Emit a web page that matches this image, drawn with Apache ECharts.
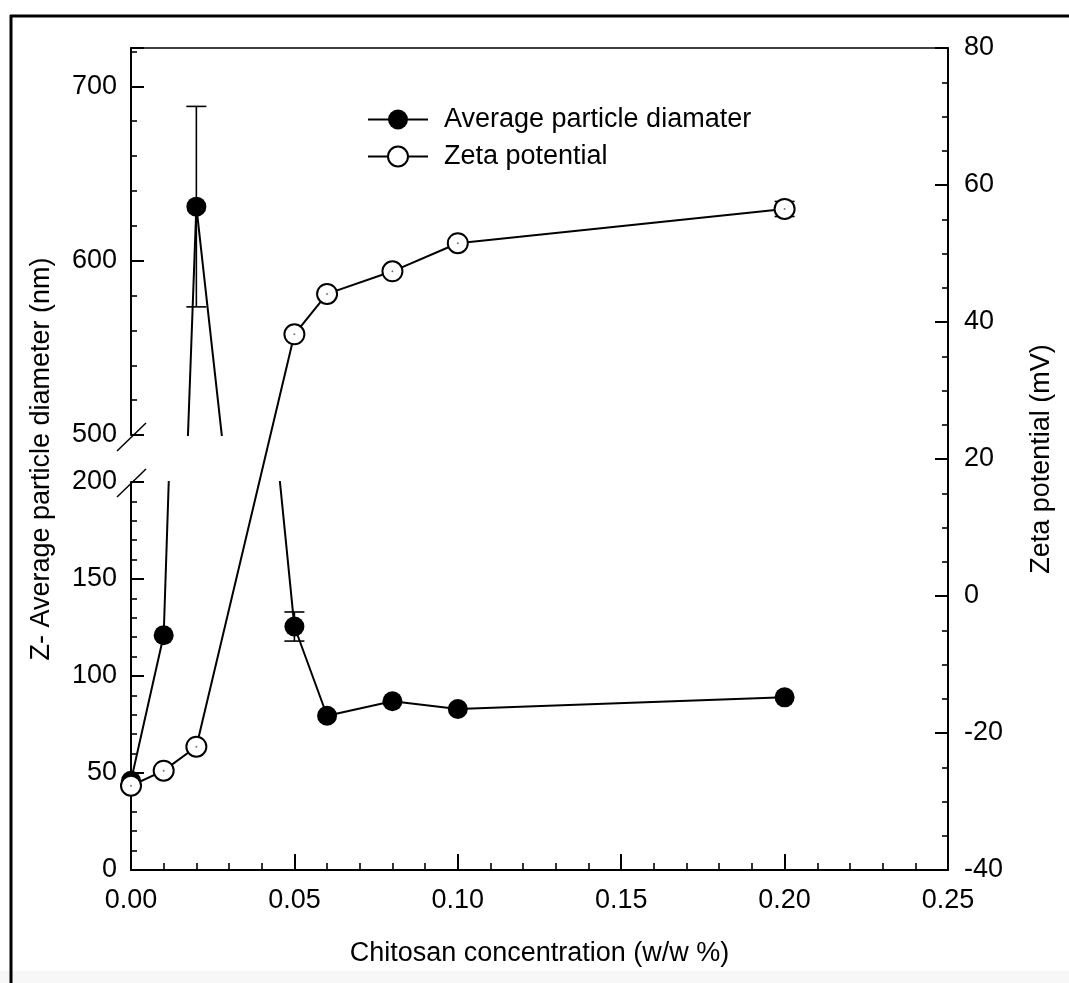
<!DOCTYPE html>
<html>
<head>
<meta charset="utf-8">
<script src="https://cdn.jsdelivr.net/npm/echarts@6/dist/echarts.min.js"></script>
<style>
  html, body { margin: 0; padding: 0; background: #fff; }
  #chart { width: 1069px; height: 983px; }
</style>
</head>
<body>
<div id="chart"></div>
<script>
// Chitosan concentration (w/w %)
const concentration = [0, 0.01, 0.02, 0.05, 0.06, 0.08, 0.10, 0.20];
// Z-average particle diameter (nm) and its standard deviation
const diameter = [46, 121, 631, 125.5, 79.5, 87, 83, 89];
const diameterErr = [4, 0, 57.5, 7.5, 0, 0, 0, 0];
// Zeta potential (mV) and its standard deviation
const zeta = [-27.7, -25.5, -22.0, 38.2, 44.1, 47.4, 51.5, 56.5];
const zetaErr = [0, 0, 0, 0, 0, 0, 0, 1.1];

const FONT = "'Liberation Sans', Arial, sans-serif";
const FS = 27;
const BLACK = '#000';
const MARK = 20;

const diameterPts = concentration.map((x, i) => [x, diameter[i]]);
const diameterBars = concentration
  .map((x, i) => [x, diameter[i] - diameterErr[i], diameter[i] + diameterErr[i], diameterErr[i]])
  .filter(d => d[3] > 0);
const zetaPts = concentration.map((x, i) => [x, zeta[i]]);
const zetaBars = concentration
  .map((x, i) => [x, zeta[i] - zetaErr[i], zeta[i] + zetaErr[i], zetaErr[i]])
  .filter(d => d[3] > 0);

function errorBar(params, api) {
  const x = api.value(0);
  const lo = api.coord([x, api.value(1)]);
  const hi = api.coord([x, api.value(2)]);
  const w = 10;
  const style = { stroke: BLACK, lineWidth: 1.6, fill: null };
  return {
    type: 'group',
    children: [
      { type: 'line', shape: { x1: hi[0], y1: hi[1], x2: lo[0], y2: lo[1] }, style },
      { type: 'line', shape: { x1: hi[0] - w, y1: hi[1], x2: hi[0] + w, y2: hi[1] }, style },
      { type: 'line', shape: { x1: lo[0] - w, y1: lo[1], x2: lo[0] + w, y2: lo[1] }, style }
    ]
  };
}

const L = 131, R = 1069 - 948, BOT = 983 - 870;

const hiddenX = (grid) => ({
  gridIndex: grid, type: 'value', min: 0, max: 0.25, show: false
});

const leftAxis = (grid, min, max, interval) => ({
  gridIndex: grid, type: 'value', position: 'left', min, max, interval,
  axisLine: { show: true, onZero: false, lineStyle: { color: BLACK, width: 2 } },
  axisTick: { show: true, inside: true, length: 13, lineStyle: { color: BLACK, width: 2 } },
  minorTick: { show: true, splitNumber: 5, length: 6, lineStyle: { color: BLACK, width: 1.6 } },
  axisLabel: { color: BLACK, fontSize: FS, fontFamily: FONT, margin: 14, showMaxLabel: max % interval === 0 },
  splitLine: { show: false }
});

const option = {
  animation: false,
  backgroundColor: '#fff',
  grid: [
    { left: L, right: R, top: 48, bottom: BOT },
    { left: L, right: R, top: 482, bottom: BOT },
    { left: L, right: R, top: 48, bottom: 983 - 435 }
  ],
  legend: {
    data: ['Average particle diamater', 'Zeta potential'],
    orient: 'vertical',
    left: 367, top: 106, padding: 0,
    itemWidth: 60, itemHeight: 25, itemGap: 10,
    textStyle: { fontSize: FS, color: BLACK, fontFamily: FONT, padding: [0, 0, 0, 11] },
    selectedMode: false
  },
  xAxis: [
    {
      gridIndex: 0, type: 'value', position: 'bottom', min: 0, max: 0.25, interval: 0.05,
      name: 'Chitosan concentration (w/w %)', nameLocation: 'middle', nameGap: 70,
      nameTextStyle: { fontSize: FS, color: BLACK, fontFamily: FONT },
      axisLine: { show: true, onZero: false, lineStyle: { color: BLACK, width: 2 } },
      axisTick: { show: true, inside: true, length: 16, lineStyle: { color: BLACK, width: 2 } },
      minorTick: { show: true, splitNumber: 5, length: 7, lineStyle: { color: BLACK, width: 1.6 } },
      axisLabel: { color: BLACK, fontSize: FS, fontFamily: FONT, margin: 17, formatter: v => v.toFixed(2) },
      splitLine: { show: false }
    },
    {
      gridIndex: 0, type: 'value', position: 'top', min: 0, max: 0.25,
      axisLine: { show: true, onZero: false, lineStyle: { color: BLACK, width: 1.5 } },
      axisTick: { show: false }, axisLabel: { show: false }, splitLine: { show: false }
    },
    hiddenX(1),
    hiddenX(2)
  ],
  yAxis: [
    {
      gridIndex: 0, type: 'value', position: 'right', min: -40, max: 80, interval: 20,
      name: 'Zeta potential (mV)', nameLocation: 'middle', nameGap: 80, nameRotate: 90,
      nameTextStyle: { fontSize: FS, color: BLACK, fontFamily: FONT },
      axisLine: { show: true, onZero: false, lineStyle: { color: BLACK, width: 2 } },
      axisTick: { show: true, inside: true, length: 13, lineStyle: { color: BLACK, width: 2 } },
      minorTick: { show: true, splitNumber: 4, length: 6, lineStyle: { color: BLACK, width: 1.6 } },
      axisLabel: { color: BLACK, fontSize: FS, fontFamily: FONT, margin: 16 },
      splitLine: { show: false }
    },
    {
      gridIndex: 0, type: 'value', position: 'left', min: 0, max: 1,
      name: 'Z- Average particle diameter (nm)', nameLocation: 'middle', nameGap: 76, nameRotate: 90,
      nameTextStyle: { fontSize: FS, color: BLACK, fontFamily: FONT },
      axisLine: { show: false, onZero: false }, axisTick: { show: false }, axisLabel: { show: false },
      splitLine: { show: false }
    },
    leftAxis(1, 0, 200, 50),
    leftAxis(2, 500, 722, 100)
  ],
  graphic: [
    { type: 'rect', shape: { x: 0, y: 971, width: 1069, height: 12 }, style: { fill: '#f7f7f7' }, silent: true },
    { type: 'line', shape: { x1: 11, y1: 15, x2: 11, y2: 983 }, style: { stroke: BLACK, lineWidth: 3 }, silent: true },
    { type: 'line', shape: { x1: 10, y1: 16, x2: 1069, y2: 16 }, style: { stroke: BLACK, lineWidth: 3 }, silent: true },
    // axis break marks on the left axis
    { type: 'line', shape: { x1: 117, y1: 451, x2: 146, y2: 423 }, style: { stroke: BLACK, lineWidth: 1.5 }, silent: true },
    { type: 'line', shape: { x1: 117, y1: 497, x2: 146, y2: 469 }, style: { stroke: BLACK, lineWidth: 1.5 }, silent: true }
  ],
  series: [
    {
      type: 'custom', xAxisIndex: 2, yAxisIndex: 2, clip: true, z: 2,
      renderItem: errorBar, data: diameterBars, silent: true
    },
    {
      type: 'custom', xAxisIndex: 3, yAxisIndex: 3, clip: true, z: 2,
      renderItem: errorBar, data: diameterBars, silent: true
    },
    {
      name: 'Average particle diamater', type: 'line', xAxisIndex: 2, yAxisIndex: 2,
      data: diameterPts, clip: true, z: 3,
      symbol: 'circle', symbolSize: MARK, showAllSymbol: true,
      itemStyle: { color: BLACK },
      lineStyle: { color: BLACK, width: 2 }
    },
    {
      name: 'Average particle diamater', type: 'line', xAxisIndex: 3, yAxisIndex: 3,
      data: diameterPts, clip: true, z: 3,
      symbol: 'circle', symbolSize: MARK, showAllSymbol: true,
      itemStyle: { color: BLACK },
      lineStyle: { color: BLACK, width: 2 }
    },
    {
      type: 'custom', xAxisIndex: 0, yAxisIndex: 0, clip: true, z: 4,
      renderItem: errorBar, data: zetaBars, silent: true
    },
    {
      name: 'Zeta potential', type: 'line', xAxisIndex: 0, yAxisIndex: 0,
      data: zetaPts, z: 5,
      symbol: 'circle', symbolSize: MARK, showAllSymbol: true,
      itemStyle: { color: '#fff', borderColor: BLACK, borderWidth: 2 },
      lineStyle: { color: BLACK, width: 2 }
    },
    {
      type: 'scatter', xAxisIndex: 0, yAxisIndex: 0, data: zetaPts, z: 6,
      symbol: 'circle', symbolSize: 2, itemStyle: { color: '#555' }, silent: true
    }
  ]
};

const chart = echarts.init(document.getElementById('chart'), null, { renderer: 'canvas' });
chart.setOption(option);
</script>
</body>
</html>
